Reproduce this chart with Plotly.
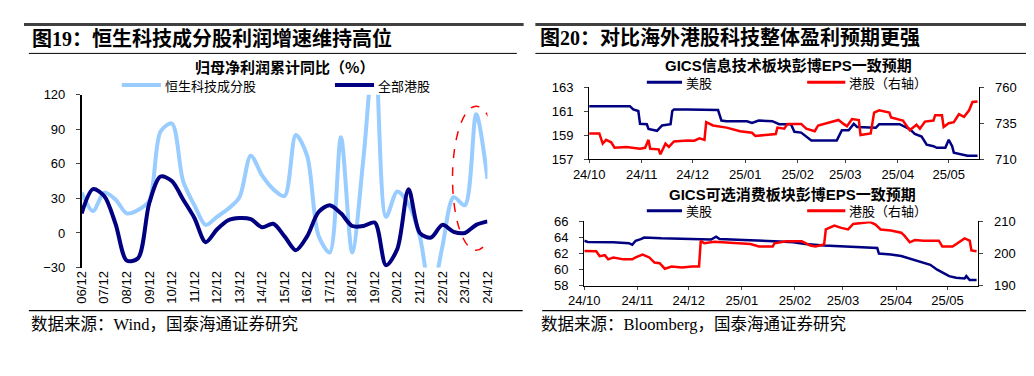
import plotly.graph_objects as go

W, H = 1034, 376
def px(x): return x / W
def py(y): return 1 - y / H

# ---------------- Left chart data (half-yearly, 06/12 .. 24/12) ----------------
year_labels = ["06/12", "07/12", "08/12", "09/12", "10/12", "11/12", "12/12", "13/12", "14/12",
               "15/12", "16/12", "17/12", "18/12", "19/12", "20/12", "21/12", "22/12", "23/12", "24/12"]
hstech_growth = [35, 19, 35, 29, 17, 20, 28, 88, 95, 45, 24, 7, 14, 21, 31, 67, 50, 38, 32,
                 85, 67, -2, -17, 83, -17, 65, 165, 14, 36, 25, -3, -55, -12, 31, 24, 103, 47]
hk_all_growth = [17, 38, 32, 8, -24, -22, 26, 49, 45, 29, 13, -8, 3, 11, 13, 12, 5, 8, -3,
                 -15, -3, 18, 24, 17, 6, 6, 9, -28, -14, 38, 0, -4, 7, 1, 0, 7, 10]
half_pos = [i * 0.5 for i in range(len(hstech_growth))]
year_pos = list(range(len(year_labels)))

# ---------------- Right top: GICS IT EPS consensus ----------------
us_it_dates = ["2024-10-01", "2024-10-21", "2024-10-25", "2024-10-27", "2024-10-30", "2024-10-31",
               "2024-11-04", "2024-11-05", "2024-11-10", "2024-11-13", "2024-11-18", "2024-11-19",
               "2024-11-20", "2024-11-28", "2024-12-16", "2024-12-18", "2024-12-21", "2025-01-02",
               "2025-01-05", "2025-01-09", "2025-01-17", "2025-01-21", "2025-01-28", "2025-01-30",
               "2025-02-03", "2025-02-09", "2025-02-17", "2025-02-24", "2025-02-27", "2025-03-03",
               "2025-03-06", "2025-03-08", "2025-03-19", "2025-03-21", "2025-04-02", "2025-04-08",
               "2025-04-11", "2025-04-15", "2025-04-18", "2025-04-22", "2025-04-24", "2025-04-29",
               "2025-05-01", "2025-05-03", "2025-05-04", "2025-05-08", "2025-05-12", "2025-05-18"]
us_it_eps = [161.4, 161.45, 161.4, 161.13, 161.0, 159.93, 159.9, 159.5, 159.35, 159.8, 159.9, 161.0,
             161.13, 161.13, 161.08, 160.2, 160.15, 160.15, 160.0, 160.2, 160.15, 159.9, 159.9, 159.27,
             159.2, 158.55, 158.55, 158.55, 159.4, 159.4, 159.93, 159.67, 159.6, 159.9, 159.9, 159.5,
             159.1, 158.87, 158.2, 158.07, 157.93, 157.93, 158.6, 158.07, 157.53, 157.4, 157.27, 157.27]

hk_it_dates = ["2024-10-01", "2024-10-07", "2024-10-09", "2024-10-11", "2024-10-14", "2024-10-16",
               "2024-10-23", "2024-10-31", "2024-11-03", "2024-11-05", "2024-11-06", "2024-11-11",
               "2024-11-12", "2024-11-15", "2024-11-17", "2024-11-20", "2024-11-28", "2024-12-02",
               "2024-12-05", "2024-12-08", "2024-12-09", "2024-12-13", "2024-12-21", "2024-12-29",
               "2025-01-05", "2025-01-07", "2025-01-13", "2025-01-19", "2025-01-20", "2025-01-24",
               "2025-01-26", "2025-02-03", "2025-02-06", "2025-02-11", "2025-02-13", "2025-02-17",
               "2025-02-20", "2025-02-25", "2025-02-28", "2025-03-02", "2025-03-05", "2025-03-09",
               "2025-03-10", "2025-03-16", "2025-03-18", "2025-03-21", "2025-03-27", "2025-03-28",
               "2025-04-04", "2025-04-08", "2025-04-12", "2025-04-14", "2025-04-17", "2025-04-22",
               "2025-04-23", "2025-04-27", "2025-04-28", "2025-05-01", "2025-05-04", "2025-05-07",
               "2025-05-10", "2025-05-13", "2025-05-15", "2025-05-18"]
hk_it_eps = [727.8, 727.8, 720.7, 723.3, 721.6, 717.8, 718.4, 717.1, 717.8, 723.3, 717.1, 716.7,
             713.3, 720.7, 718.4, 722.2, 722.9, 722.7, 724.4, 723.3, 735.6, 733.3, 731.8, 729.3,
             728.2, 726.0, 726.7, 727.3, 731.8, 731.1, 734.4, 734.4, 731.1, 729.3, 733.3, 734.4,
             735.6, 737.1, 734.4, 732.7, 737.8, 737.1, 726.7, 727.8, 742.2, 743.8, 742.2, 738.9,
             736.7, 730.0, 733.8, 731.1, 736.0, 736.7, 740.4, 740.4, 732.2, 734.9, 735.6, 741.1,
             739.3, 743.8, 749.6, 750.0]

# ---------------- Right bottom: GICS consumer discretionary EPS consensus ----------------
us_cd_dates = ["2024-10-01", "2024-10-03", "2024-10-18", "2024-10-27", "2024-10-29", "2024-10-31",
               "2024-11-03", "2024-11-05", "2024-11-15", "2024-11-25", "2024-12-14", "2024-12-17",
               "2024-12-19", "2025-01-02", "2025-01-17", "2025-01-23", "2025-01-31", "2025-02-07",
               "2025-02-18", "2025-02-26", "2025-03-10", "2025-03-21", "2025-03-22", "2025-03-29",
               "2025-04-04", "2025-04-09", "2025-04-15", "2025-04-21", "2025-04-25", "2025-04-29",
               "2025-05-02", "2025-05-06", "2025-05-11", "2025-05-12", "2025-05-14", "2025-05-18"]
us_cd_eps = [63.6, 63.45, 63.4, 63.3, 63.1, 63.6, 63.8, 64.0, 63.9, 63.85, 63.75, 64.1,
             63.8, 63.7, 63.6, 63.5, 63.4, 63.2, 63.0, 62.9, 62.8, 62.7, 62.0, 61.9,
             61.7, 61.4, 61.0, 60.6, 60.0, 59.6, 59.2, 59.0, 58.9, 59.2, 58.7, 58.7]

hk_cd_dates = ["2024-10-01", "2024-10-08", "2024-10-10", "2024-10-13", "2024-10-15", "2024-10-18",
               "2024-10-24", "2024-10-29", "2024-10-31", "2024-11-04", "2024-11-08", "2024-11-11",
               "2024-11-14", "2024-11-17", "2024-11-21", "2024-11-27", "2024-12-03", "2024-12-07",
               "2024-12-08", "2024-12-10", "2024-12-16", "2024-12-27", "2025-01-06", "2025-01-11",
               "2025-01-19", "2025-01-20", "2025-01-27", "2025-02-05", "2025-02-10", "2025-02-13",
               "2025-02-18", "2025-02-19", "2025-02-24", "2025-02-28", "2025-03-04", "2025-03-07",
               "2025-03-12", "2025-03-17", "2025-03-20", "2025-03-23", "2025-03-29", "2025-04-04",
               "2025-04-06", "2025-04-09", "2025-04-12", "2025-04-17", "2025-04-26", "2025-04-28",
               "2025-05-04", "2025-05-08", "2025-05-11", "2025-05-14", "2025-05-15", "2025-05-18"]
hk_cd_eps = [200.8, 200.7, 199.2, 199.5, 198.2, 198.8, 198.2, 198.2, 198.8, 199.7, 198.8, 197.2,
             197.0, 195.3, 196.0, 195.7, 196.0, 196.0, 204.0, 203.2, 203.7, 203.3, 203.0, 202.2,
             202.2, 203.2, 203.8, 203.8, 202.5, 202.2, 202.8, 207.5, 208.7, 208.0, 207.5, 209.2,
             209.5, 209.8, 209.0, 207.5, 207.2, 206.5, 205.5, 203.5, 204.2, 204.0, 204.0, 202.2,
             202.2, 203.5, 204.7, 204.0, 201.0, 200.7]

month_ticks = ["2024-10-01", "2024-11-01", "2024-12-01", "2025-01-01", "2025-02-01",
               "2025-03-01", "2025-04-01", "2025-05-01"]

LIGHT = "#99CCFF"
NAVY = "#000080"
RED = "#FF0000"
SANS = "Liberation Sans, Arial, sans-serif"
CJK = "Noto Sans CJK SC"
TITLE_FONT = "Liberation Serif, Noto Sans CJK SC"

fig = go.Figure()

# left chart
fig.add_trace(go.Scatter(x=half_pos, y=hstech_growth, mode="lines", line=dict(color=LIGHT, width=4, shape="spline", smoothing=0.85),
                         xaxis="x", yaxis="y", showlegend=False, hoverinfo="skip"))
fig.add_trace(go.Scatter(x=half_pos, y=hk_all_growth, mode="lines", line=dict(color=NAVY, width=4, shape="spline", smoothing=0.85),
                         xaxis="x", yaxis="y", showlegend=False, hoverinfo="skip"))

# upper right
fig.add_trace(go.Scatter(x=us_it_dates, y=us_it_eps, mode="lines", line=dict(color=NAVY, width=2.5),
                         xaxis="x2", yaxis="y2", showlegend=False, hoverinfo="skip"))
fig.add_trace(go.Scatter(x=hk_it_dates, y=hk_it_eps, mode="lines", line=dict(color=RED, width=2.5),
                         xaxis="x2", yaxis="y3", showlegend=False, hoverinfo="skip"))
# lower right
fig.add_trace(go.Scatter(x=us_cd_dates, y=us_cd_eps, mode="lines", line=dict(color=NAVY, width=2.5),
                         xaxis="x3", yaxis="y4", showlegend=False, hoverinfo="skip"))
fig.add_trace(go.Scatter(x=hk_cd_dates, y=hk_cd_eps, mode="lines", line=dict(color=RED, width=2.5),
                         xaxis="x3", yaxis="y5", showlegend=False, hoverinfo="skip"))

tickfont = dict(family=SANS, size=13, color="#000")
left_dom_y = [py(263), py(83)]
yl_range = [-30, 120]
zero_pos = left_dom_y[0] + (0 - yl_range[0]) / (yl_range[1] - yl_range[0]) * (left_dom_y[1] - left_dom_y[0])

date_range = ["2024-10-01", "2025-05-19"]

fig.update_layout(
    width=W, height=H, autosize=False,
    margin=dict(l=0, r=0, t=0, b=0),
    paper_bgcolor="white", plot_bgcolor="white",
    xaxis=dict(domain=[px(59), px(474)], range=[0, 18], tickvals=year_pos, ticktext=year_labels,
               tickangle=-90, showline=False, ticks="", showgrid=False, zeroline=False,
               tickfont=tickfont, anchor="y", fixedrange=True),
    xaxis4=dict(overlaying="x", anchor="free", position=zero_pos, range=[0, 18], tickvals=year_pos,
                showticklabels=False, showline=True, linecolor="#000", linewidth=1.5,
                ticks="outside", ticklen=4, tickcolor="#000", showgrid=False, zeroline=False),
    yaxis=dict(domain=left_dom_y, range=yl_range, tickvals=[-30, 0, 30, 60, 90, 120],
               showline=True, linecolor="#000", linewidth=1.5, ticks="outside", ticklen=4,
               showgrid=False, zeroline=False, tickfont=tickfont, anchor="x", ticklabelstandoff=8),
    xaxis2=dict(domain=[px(578), px(977)], type="date", range=date_range, tickvals=month_ticks,
                tickformat="%y/%m", showline=True, linecolor="#000", linewidth=1.2, ticks="outside",
                ticklen=3, showgrid=False, zeroline=False, tickfont=tickfont, anchor="y2"),
    yaxis2=dict(domain=[py(150), py(75)], range=[157, 163], tickvals=[157, 159, 161, 163],
                showline=True, linecolor="#000", linewidth=1.2, ticks="outside", ticklen=4,
                showgrid=False, zeroline=False, tickfont=tickfont, anchor="x2", ticklabelstandoff=8),
    yaxis3=dict(overlaying="y2", side="right", range=[710, 760], tickvals=[710, 735, 760],
                showline=True, linecolor="#000", linewidth=1.2, ticks="outside", ticklen=4,
                showgrid=False, zeroline=False, tickfont=tickfont, anchor="x2", ticklabelstandoff=8),
    xaxis3=dict(domain=[px(573), px(976)], type="date", range=date_range, tickvals=month_ticks,
                tickformat="%y/%m", showline=True, linecolor="#000", linewidth=1.2, ticks="outside",
                ticklen=3, showgrid=False, zeroline=False, tickfont=tickfont, anchor="y4"),
    yaxis4=dict(domain=[py(282), py(215)], range=[58, 66], tickvals=[58, 60, 62, 64, 66],
                showline=True, linecolor="#000", linewidth=1.2, ticks="outside", ticklen=4,
                showgrid=False, zeroline=False, tickfont=tickfont, anchor="x3", ticklabelstandoff=8),
    yaxis5=dict(overlaying="y4", side="right", range=[190, 210], tickvals=[190, 200, 210],
                showline=True, linecolor="#000", linewidth=1.2, ticks="outside", ticklen=4,
                showgrid=False, zeroline=False, tickfont=tickfont, anchor="x3", ticklabelstandoff=8),
)

shapes = []
annotations = []

def hline(x0, x1, y, color="#000", width=1):
    shapes.append(dict(type="line", xref="paper", yref="paper", x0=px(x0), x1=px(x1), y0=py(y), y1=py(y),
                       line=dict(color=color, width=width)))

def text(x, y, s, size, bold=False, anchor="left", family=CJK, color="#000"):
    annotations.append(dict(x=px(x), y=py(y), xref="paper", yref="paper", text=(f"<b>{s}</b>" if bold else s),
                            showarrow=False, xanchor=anchor, yanchor="middle",
                            font=dict(family=family, size=size, color=color)))

# frame rules
hline(0, 511, 10, "#404040", 3)
hline(523, 1030, 10, "#404040", 3)
hline(5, 504, 40, "#000", 1)
hline(523, 1026, 40, "#000", 1)
hline(5, 510, 308, "#000", 1.2)
hline(530, 1030, 308, "#000", 1.2)

# titles
text(6, 24, "图19：恒生科技成分股利润增速维持高位", 20, bold=True, family=TITLE_FONT)
text(526, 24, "图20：对比海外港股科技整体盈利预期更强", 20, bold=True, family=TITLE_FONT)
text(266, 54, "归母净利润累计同比（%）", 15, bold=True, anchor="center")
text(782, 53, "GICS信息技术板块彭博EPS一致预期", 15, bold=True, anchor="center", family="Liberation Sans, Noto Sans CJK SC")
text(786, 187, "GICS可选消费板块彭博EPS一致预期", 15, bold=True, anchor="center", family="Liberation Sans, Noto Sans CJK SC")

# legends
hline(100, 140, 73, LIGHT, 4)
text(142, 73, "恒生科技成分股", 13)
hline(318, 358, 73, NAVY, 4)
text(360, 73, "全部港股", 13)
for ly in (70, 204):
    hline(637, 673, ly, NAVY, 3)
    text(675, ly, "美股", 13)
    hline(801, 840, ly, RED, 3)
    text(842, ly, "港股（右轴）", 13)

# sources
text(5, 322, "数据来源：Wind，国泰海通证券研究", 16.5, family=TITLE_FONT)
text(527, 322, "数据来源：Bloomberg，国泰海通证券研究", 16.5, family=TITLE_FONT)

# highlight ellipse on latest two years
shapes.append(dict(type="circle", xref="x", yref="y", x0=16.45, x1=18.55, y0=-15, y1=110,
                   line=dict(color=RED, width=1.5, dash="dash")))

fig.update_layout(shapes=shapes, annotations=annotations)
fig.write_html("out.html")
